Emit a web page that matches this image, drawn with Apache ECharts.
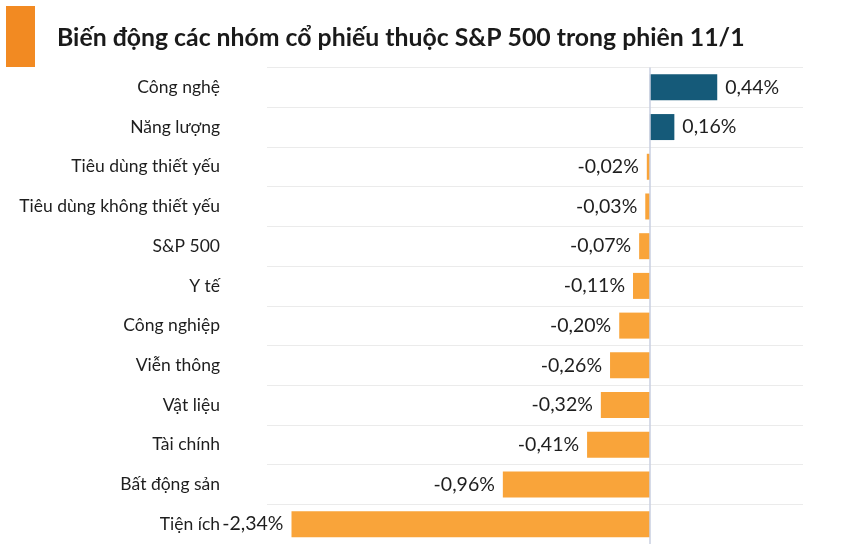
<!DOCTYPE html>
<html><head><meta charset="utf-8">
<script src="https://cdn.jsdelivr.net/npm/echarts@6/dist/echarts.min.js"></script>
<style>html,body{margin:0;padding:0;background:#fff}#c{width:852px;height:544px}</style>
</head><body><div id="c"></div>
<script>
const titleText = 'Biến động các nhóm cổ phiếu thuộc S&P 500 trong phiên 11/1';
const categories = ['Công nghệ','Năng lượng','Tiêu dùng thiết yếu','Tiêu dùng không thiết yếu','S&P 500','Y tế','Công nghiệp','Viễn thông','Vật liệu','Tài chính','Bất động sản','Tiện ích'];
const values = [0.44, 0.16, -0.02, -0.03, -0.07, -0.11, -0.20, -0.26, -0.32, -0.41, -0.96, -2.34];

const POS = '#155a79', NEG = '#f9a43a';
const fmt = v => v.toFixed(2).replace('.', ',') + '%';
const data = values.map(v => ({
  value: v,
  itemStyle: { color: v >= 0 ? POS : NEG },
  label: { position: v >= 0 ? 'right' : 'left' }
}));

const chart = echarts.init(document.getElementById('c'), null, {renderer: 'canvas'});
chart.setOption({
  animation: false,
  backgroundColor: '#fff',
  title: {
    text: titleText, left: 57, top: 26, padding: 0,
    textStyle: { fontFamily: 'Lato', fontWeight: 'bold', fontSize: 24.8, color: '#1a1a1a' }
  },
  graphic: [{ type: 'rect', shape: { x: 6, y: 6, width: 29, height: 61 }, style: { fill: '#f28a22' } }],
  grid: { left: 267, top: 67.5, width: 536, height: 480, containLabel: false },
  xAxis: {
    type: 'value', min: -2.5, max: 1.0, show: false
  },
  yAxis: {
    type: 'category', data: categories, inverse: true,
    axisLine: { show: false }, axisTick: { show: false },
    axisLabel: { margin: 47, fontFamily: 'Lato', fontSize: 17.5, color: '#1e1e1e' },
    splitLine: { show: true, lineStyle: { color: '#ebebeb', width: 1 } }
  },
  series: [{
    type: 'bar', data: data, barWidth: 26,
    label: { show: true, distance: 8, fontFamily: 'Lato', fontSize: 19.5, color: '#1e1e1e', formatter: p => fmt(p.value) },
    markLine: {
      silent: true, symbol: 'none', label: { show: false },
      lineStyle: { color: '#c9cfe0', type: 'solid', width: 1.5 },
      data: [{ xAxis: 0 }]
    }
  }]
});
</script></body></html>
